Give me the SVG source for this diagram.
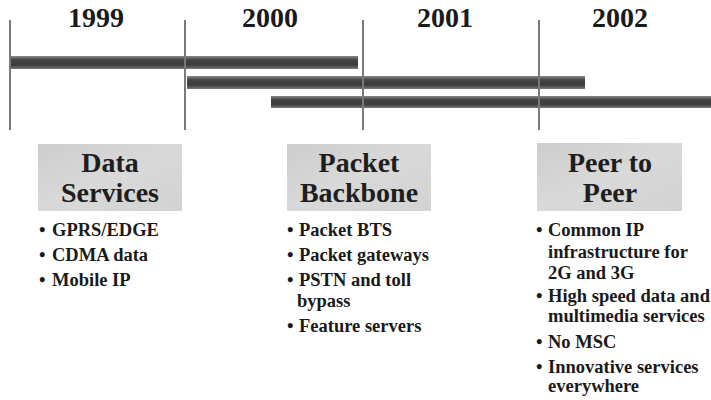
<svg xmlns="http://www.w3.org/2000/svg" width="711" height="400" viewBox="0 0 711 400">
<defs>
<linearGradient id="barG" x1="0" y1="0" x2="0" y2="1">
<stop offset="0" stop-color="#8a8a8a"/>
<stop offset="0.3" stop-color="#444"/>
<stop offset="0.7" stop-color="#3c3c3c"/>
<stop offset="1" stop-color="#7a7a7a"/>
</linearGradient>
<linearGradient id="boxG" x1="0" y1="0" x2="1" y2="1">
<stop offset="0" stop-color="#cdcdcd"/>
<stop offset="0.5" stop-color="#d9d9d9"/>
<stop offset="1" stop-color="#d2d2d2"/>
</linearGradient>
</defs>
<style>
.yr{font-family:"Liberation Serif","Times New Roman",serif;font-weight:bold;font-size:28px;fill:#1a1a1a;text-anchor:middle}
.hd{font-family:"Liberation Serif","Times New Roman",serif;font-weight:bold;font-size:28px;fill:#1e1e1e;text-anchor:middle}
.bl{font-family:"Liberation Serif","Times New Roman",serif;font-weight:bold;font-size:18.5px;fill:#1a1a1a}
.bar{fill:url(#barG)}
.vl{stroke:#7a7a7a;stroke-width:2;fill:none}
.box{fill:url(#boxG)}
</style>
<rect width="711" height="400" fill="#ffffff"/>

<g id="years">
<text class="yr" x="96" y="27">1999</text>
<text class="yr" x="270" y="27">2000</text>
<text class="yr" x="445" y="27">2001</text>
<text class="yr" x="620" y="27">2002</text>
</g>

<g id="connectors">
<rect class="bar" x="10" y="56" width="348" height="13"/>
<rect class="bar" x="187" y="76" width="398" height="13"/>
<rect class="bar" x="271" y="96" width="440" height="12"/>
<line class="vl" x1="10" y1="20" x2="10" y2="130"/>
<line class="vl" x1="185" y1="20" x2="185" y2="130"/>
<line class="vl" x1="363" y1="20" x2="363" y2="130"/>
<line class="vl" x1="539" y1="20" x2="539" y2="130"/>
</g>

<g id="data-services">
<rect class="box" x="38" y="144" width="144" height="67"/>
<text class="hd" x="110" y="172">Data</text>
<text class="hd" x="110" y="202">Services</text>
<text class="bl" x="39" y="236">•</text><text class="bl" x="52" y="236">GPRS/EDGE</text>
<text class="bl" x="39" y="261">•</text><text class="bl" x="52" y="261">CDMA data</text>
<text class="bl" x="39" y="286">•</text><text class="bl" x="52" y="286">Mobile IP</text>
</g>

<g id="packet-backbone">
<rect class="box" x="287" y="144" width="144" height="67"/>
<text class="hd" x="359" y="172">Packet</text>
<text class="hd" x="359" y="202">Backbone</text>
<text class="bl" x="287" y="236">•</text><text class="bl" x="299" y="236">Packet BTS</text>
<text class="bl" x="287" y="261">•</text><text class="bl" x="299" y="261">Packet gateways</text>
<text class="bl" x="287" y="286">•</text><text class="bl" x="299" y="286">PSTN and toll</text>
<text class="bl" x="297" y="307">bypass</text>
<text class="bl" x="287" y="332">•</text><text class="bl" x="299" y="332">Feature servers</text>
</g>

<g id="peer-to-peer">
<rect class="box" x="537" y="143" width="145" height="68"/>
<text class="hd" x="610" y="172">Peer to</text>
<text class="hd" x="610" y="202">Peer</text>
<text class="bl" x="536" y="236">•</text><text class="bl" x="548" y="236">Common IP</text>
<text class="bl" x="548" y="258">infrastructure for</text>
<text class="bl" x="548" y="279">2G and 3G</text>
<text class="bl" x="536" y="302">•</text><text class="bl" x="548" y="302">High speed data and</text>
<text class="bl" x="548" y="322">multimedia services</text>
<text class="bl" x="536" y="348">•</text><text class="bl" x="548" y="348">No MSC</text>
<text class="bl" x="536" y="373">•</text><text class="bl" x="548" y="373">Innovative services</text>
<text class="bl" x="548" y="392">everywhere</text>
</g>
</svg>
